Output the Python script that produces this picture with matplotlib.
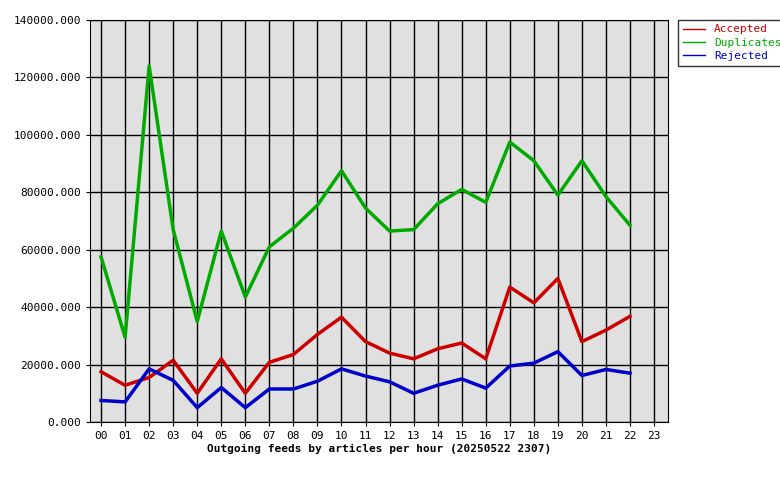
import matplotlib
matplotlib.use("Agg")
import matplotlib.pyplot as plt
import numpy as np

hours = ["%02d" % h for h in range(24)]
accepted = [17500, 12800, 15500, 21500, 10000, 22000, 10000, 20800, 23500, 30500, 36500, 28000,
            24000, 22000, 25500, 27500, 22000, 47000, 41500, 50000, 28000, 32000, 36800]
duplicates = [57500, 29500, 124000, 67000, 35000, 66500, 43500, 61000, 67500, 75500, 87500, 74500,
              66500, 67000, 76000, 81000, 76500, 97500, 91000, 79000, 91000, 78500, 68500]
rejected = [7500, 7000, 18500, 14500, 5000, 12000, 5000, 11500, 11500, 14200, 18500, 16000,
            14000, 10000, 12800, 15000, 11800, 19500, 20500, 24500, 16200, 18300, 17000]

plt.rcParams['font.family'] = 'DejaVu Sans Mono'
plt.rcParams['font.size'] = 8

fig = plt.figure(figsize=(7.8, 4.8), dpi=100)
ax = fig.add_axes([90/780, 58/480, 578/780, 402/480])
ax.set_facecolor('#e0e0e0')

x = np.arange(len(accepted))
ax.plot(x, accepted, color='#cc0000', lw=2.5, label='Accepted')
ax.plot(x, duplicates, color='#00aa00', lw=2.5, label='Duplicates')
ax.plot(x, rejected, color='#0000cc', lw=2.5, label='Rejected')

ax.set_xlim(-0.46, 23.58)
ax.set_ylim(0, 140000)
ax.set_xticks(range(24))
ax.set_xticklabels(hours)
ax.set_yticks(np.arange(0, 140001, 20000))
ax.set_yticklabels(["%d.000" % v for v in range(0, 140001, 20000)])
ax.grid(True, color='black', lw=1)
ax.set_axisbelow(True)
ax.tick_params(length=3, direction='out')
ax.set_xlabel("Outgoing feeds by articles per hour (20250522 2307)", fontweight='bold', labelpad=2)

leg = ax.legend(loc='upper left', bbox_to_anchor=(1.018, 1.0), frameon=True, fancybox=False,
                edgecolor='black', handlelength=2, borderaxespad=0, labelspacing=0.3)
for line, text in zip(leg.get_lines(), leg.get_texts()):
    text.set_color(line.get_color())
    line.set_linewidth(1)

fig.savefig("out.png", dpi=100)
